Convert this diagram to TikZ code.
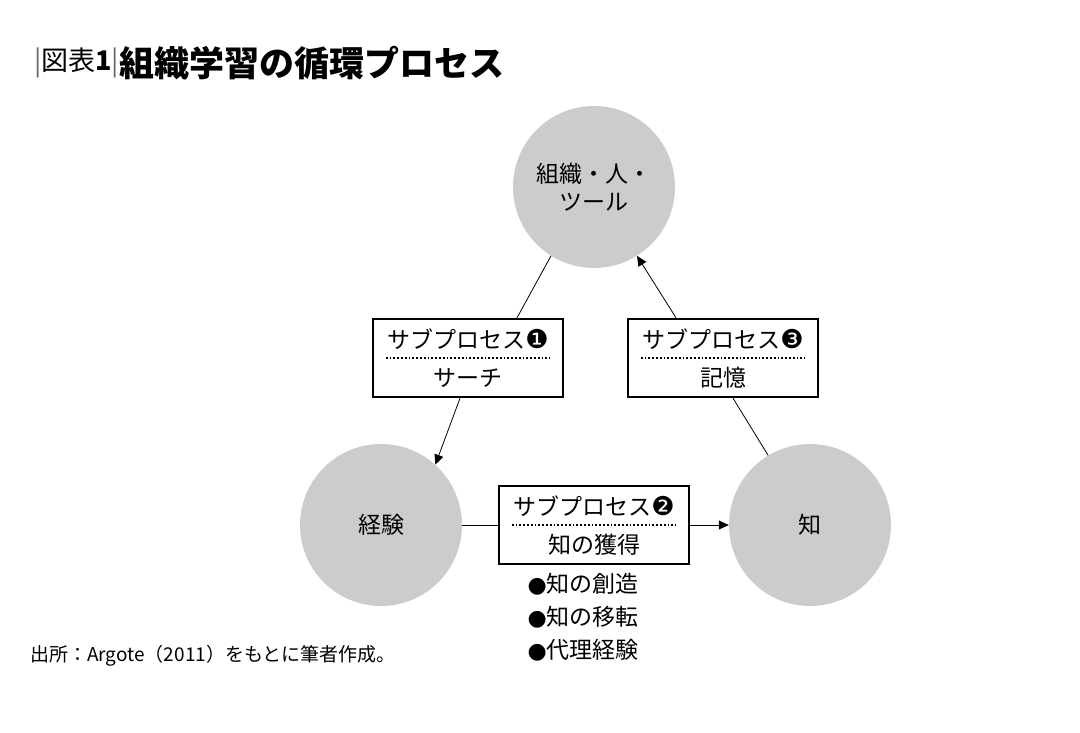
\documentclass[tikz,border=0pt]{standalone}
\usepackage{fontspec}
\setmainfont{Noto Sans CJK JP}
\newfontfamily\djvfont{DejaVu Sans}
\usetikzlibrary{calc,arrows.meta}
\begin{document}
\begin{tikzpicture}[x=1pt,y=-1pt,
  circ/.style={circle,fill=black!20,minimum size=162pt,inner sep=0pt,align=center,font=\fontsize{23}{28}\selectfont},
  sbox/.style={draw,line width=2.4pt,minimum width=190pt,minimum height=78pt,inner sep=0pt},
  lab/.style={font=\fontsize{23}{26}\selectfont},
  conn/.style={line width=0.8pt},
  arr/.style={conn,-{Triangle[length=10pt,width=9pt]}}]
\useasboundingbox (0,0) rectangle (1080,732);
\node[anchor=west,font=\fontsize{27}{30}\selectfont,inner sep=0pt] (t0) at (34,63) {\textcolor{black!60}{|}図表\textbf{1}\textcolor{black!60}{|}};
\node[anchor=west,font=\fontsize{35}{38}\selectfont\bfseries,inner sep=0pt] (t1) at (t0.east) {組織学習の循環プロセス};
\node[circ] (top) at (594,187) {組織・人・\\ツール};
\node[circ] (L) at (381,525) {経験};
\node[circ] (R) at (810,525) {知};
\node[sbox] (b1) at (468,358) {};
\node[sbox] (b3) at (723,358) {};
\node[sbox] (b2) at (594,525) {};
\foreach \b/\n in {b1/❶,b2/❷,b3/❸}{
  \draw[line width=1.8pt,dotted] ($(\b.west)+(14,0)$) -- ($(\b.east)+(-14,0)$);
  \node[lab] at ($(\b)+(0,-19)$) {サブプロセス{\djvfont\fontsize{26}{26}\selectfont\n}};
}
\node[lab] at ($(b1)+(0,20)$) {サーチ};
\node[lab] at ($(b3)+(0,20)$) {記憶};
\node[lab] at ($(b2)+(0,20)$) {知の獲得};
\draw[conn] (top.238) -- ($(b1.north)+(49,0)$);
\draw[arr] ($(b1.south)+(-8,0)$) -- (L.48);
\draw[conn] ($(b3.south)+(10,0)$) -- (R.121);
\draw[arr] ($(b3.north)+(-47,0)$) -- (top.302);
\draw[conn] (L.east) -- (b2.west);
\draw[arr] (b2.east) -- (R.west);
\node[lab,anchor=west,align=left,font=\fontsize{23}{33}\selectfont] (list) at (524,617) {{\djvfont\fontsize{22}{22}\selectfont●}知の創造\\{\djvfont\fontsize{22}{22}\selectfont●}知の移転\\{\djvfont\fontsize{22}{22}\selectfont●}代理経験};
\node[anchor=west,font=\fontsize{19}{22}\selectfont,inner sep=0pt] (src) at (30,656) {出所：Argote（2011）をもとに筆者作成。};
\end{tikzpicture}
\end{document}
